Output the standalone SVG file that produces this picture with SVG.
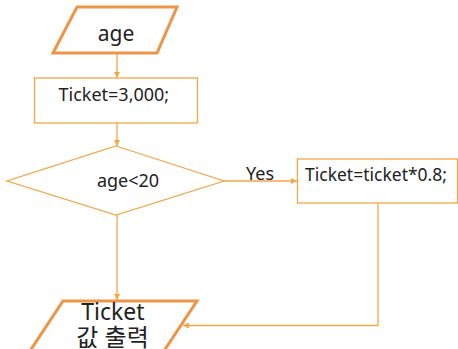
<svg xmlns="http://www.w3.org/2000/svg" width="458" height="349" viewBox="0 0 458 349">
<style>
.thick{fill:#fff;stroke:#EE9447;stroke-width:3}
.thin{fill:#fff;stroke:#F5A646;stroke-width:1.3}
.ln{fill:none;stroke:#F5A646;stroke-width:1.3}
text{font-family:"Noto Sans","Noto Sans CJK KR",sans-serif;fill:#222}
</style>
<defs>
<marker id="ah" viewBox="0 0 10 10" refX="10" refY="5" markerWidth="6" markerHeight="6" orient="auto" markerUnits="userSpaceOnUse">
<path d="M0,0 L10,5 L0,10 z" fill="#F5A646"/>
</marker>
</defs>
<g id="connectors">
<line class="ln" x1="117" y1="53" x2="117" y2="78" marker-end="url(#ah)"/>
<line class="ln" x1="117" y1="123" x2="117" y2="146" marker-end="url(#ah)"/>
<line class="ln" x1="224" y1="181" x2="297" y2="181" marker-end="url(#ah)"/>
<line class="ln" x1="117" y1="215" x2="117" y2="300" marker-end="url(#ah)"/>
<polyline class="ln" points="378,203 378,325.5 183,325.5" marker-end="url(#ah)"/>
<text x="246" y="180" font-size="18">Yes</text>
</g>
<g id="input-age">
<polygon class="thick" points="77,7 177,7 157,53 53,53"/>
<text x="116" y="41" font-size="21" text-anchor="middle">age</text>
</g>
<g id="ticket-init">
<rect class="thin" x="34.5" y="78" width="163" height="45"/>
<text x="58.5" y="101" font-size="18">Ticket=3,000;</text>
</g>
<g id="decision">
<polygon class="thin" points="116,146 224,181 116,215 7,181"/>
<text x="128" y="187" font-size="18" text-anchor="middle">age&lt;20</text>
</g>
<g id="ticket-discount">
<rect class="thin" x="297.5" y="159" width="160" height="44"/>
<text x="305" y="181" font-size="17.5">Ticket=ticket*0.8;</text>
</g>
<g id="output">
<polygon class="thick" points="63,301 197,301 154,366 20,366"/>
<text x="113" y="319.5" font-size="23" text-anchor="middle">Ticket</text>
<text x="112.5" y="346" font-size="24" text-anchor="middle">값 출력</text>
</g>
</svg>
